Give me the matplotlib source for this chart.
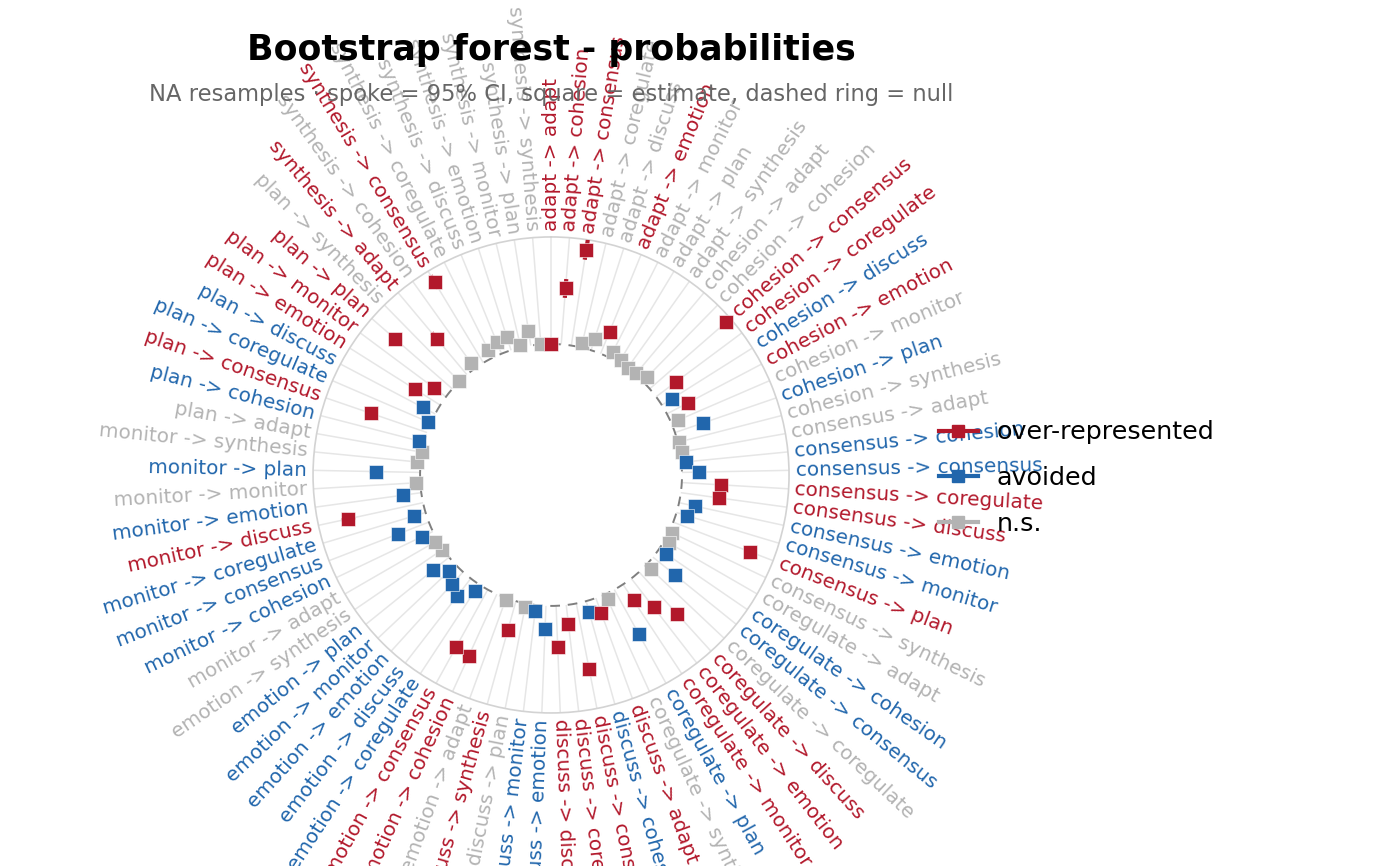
import numpy as np
import matplotlib.pyplot as plt
from matplotlib.lines import Line2D

states = ["adapt", "cohesion", "consensus", "coregulate", "discuss",
          "emotion", "monitor", "plan", "synthesis"]

# estimate per transition (from -> to), row order = states
estimate = [
    0.000, 0.262, 0.453, 0.021, 0.056, 0.112, 0.031, 0.017, 0.004,   # adapt
    0.007, 0.029, 0.472, 0.117, 0.057, 0.112, 0.035, 0.136, 0.006,   # cohesion
    0.009, 0.020, 0.081, 0.182, 0.182, 0.074, 0.051, 0.382, 0.014,   # consensus
    0.022, 0.040, 0.134, 0.029, 0.266, 0.170, 0.090, 0.236, 0.026,   # coregulate
    0.076, 0.051, 0.312, 0.089, 0.191, 0.108, 0.028, 0.018, 0.139,   # discuss
    0.009, 0.315, 0.307, 0.037, 0.102, 0.076, 0.041, 0.098, 0.005,   # emotion
    0.015, 0.057, 0.154, 0.056, 0.357, 0.088, 0.020, 0.206, 0.018,   # monitor
    0.001, 0.024, 0.276, 0.015, 0.065, 0.139, 0.072, 0.354, 0.001,   # plan
    0.220, 0.033, 0.441, 0.041, 0.058, 0.065, 0.012, 0.070, 0.001,   # synthesis
]

# half width of the 95% CI
ci_half = [
    0.010, 0.044, 0.047, 0.010, 0.012, 0.018, 0.010, 0.010, 0.008,
    0.008, 0.010, 0.020, 0.015, 0.012, 0.012, 0.010, 0.014, 0.008,
    0.008, 0.010, 0.012, 0.015, 0.015, 0.012, 0.012, 0.018, 0.008,
    0.010, 0.010, 0.012, 0.010, 0.015, 0.015, 0.012, 0.015, 0.010,
    0.012, 0.010, 0.015, 0.012, 0.015, 0.012, 0.010, 0.010, 0.014,
    0.008, 0.015, 0.015, 0.010, 0.012, 0.012, 0.010, 0.012, 0.008,
    0.010, 0.012, 0.014, 0.012, 0.033, 0.012, 0.010, 0.030, 0.010,
    0.008, 0.010, 0.016, 0.010, 0.012, 0.014, 0.012, 0.016, 0.008,
    0.035, 0.010, 0.035, 0.010, 0.012, 0.012, 0.010, 0.012, 0.008,
]

# o = over-represented, a = avoided, n = n.s.
status = list(
    "ooonnonnn"
    "nnooaonan"
    "naaooaaon"
    "naanoooan"
    "oaoooaano"
    "nooaaaaan"
    "naaaoanan"
    "naoaaooon"
    "ononnnnnn"
)

colors = {"o": "#B2182B", "a": "#2166AC", "n": "#B3B3B3"}
names = {"o": "over-represented", "a": "avoided", "n": "n.s."}

labels = [f"{a} -> {b}" for a in states for b in states]
n = len(labels)
theta = np.arange(n) * 2 * np.pi / n
est = np.array(estimate)
half = np.array(ci_half)
lo = np.clip(est - half, 0, None)
hi = est + half

rmax = 0.5
fig = plt.figure(figsize=(14, 8.66), dpi=100)
ax = fig.add_axes([0.2236, 0.1767, 0.34, 0.5497], projection="polar")
ax.set_theta_zero_location("N")
ax.set_theta_direction(-1)
ax.set_rlim(0, rmax)
ax.set_rorigin(-0.612)

ax.set_xticks(theta)
ax.set_xticklabels([])
ax.set_yticks([])
ax.xaxis.grid(True, color="#E6E6E6", lw=1.1)
ax.tick_params(axis="x", length=0)
ax.spines["polar"].set_color("#D3D3D3")
ax.spines["polar"].set_linewidth(1.2)
# the inner spine gets switched back on at draw time, so blank it instead
ax.spines["inner"].set_linewidth(0)
ax.spines["inner"].set_edgecolor("none")

ring = np.linspace(0, 2 * np.pi, 400)
ax.plot(ring, np.zeros_like(ring), color="#7F7F7F", lw=1.4,
        ls=(0, (5, 4)), clip_on=False, zorder=2)

for key in ["n", "a", "o"]:
    idx = [i for i in range(n) if status[i] == key]
    ax.vlines(theta[idx], lo[idx], hi[idx], color=colors[key], lw=3,
              zorder=3)
    ax.scatter(theta[idx], est[idx], marker="s", s=92, color=colors[key],
               edgecolors="white", linewidths=0.4, zorder=4, clip_on=False)

for i in range(n):
    deg = np.degrees(theta[i])
    if deg < 180:
        rot, ha = 90 - deg, "left"
    else:
        rot, ha = 270 - deg, "right"
    ax.text(theta[i], rmax + 0.03, labels[i], rotation=rot, ha=ha,
            va="center", rotation_mode="anchor", fontsize=14.4,
            color=colors[status[i]], clip_on=False)

handles = [Line2D([], [], color=colors[k], lw=3, marker="s", markersize=9)
           for k in ["o", "a", "n"]]
fig.legend(handles, [names[k] for k in ["o", "a", "n"]], loc="center left",
           bbox_to_anchor=(0.671, 0.448), frameon=False, fontsize=18.3,
           handlelength=1.5, handletextpad=0.75, labelspacing=0.85,
           borderaxespad=0, borderpad=0)

fig.text(0.3936, 1 - 50 / 866, "Bootstrap forest - probabilities",
         ha="center", va="center", fontsize=25, fontweight="bold")
fig.text(0.3936, 1 - 95 / 866,
         "NA resamples \u00b7 spoke = 95% CI, square = estimate, dashed ring = null",
         ha="center", va="center", fontsize=16.3, color="#666666")

fig.savefig("out.png", dpi=100)
